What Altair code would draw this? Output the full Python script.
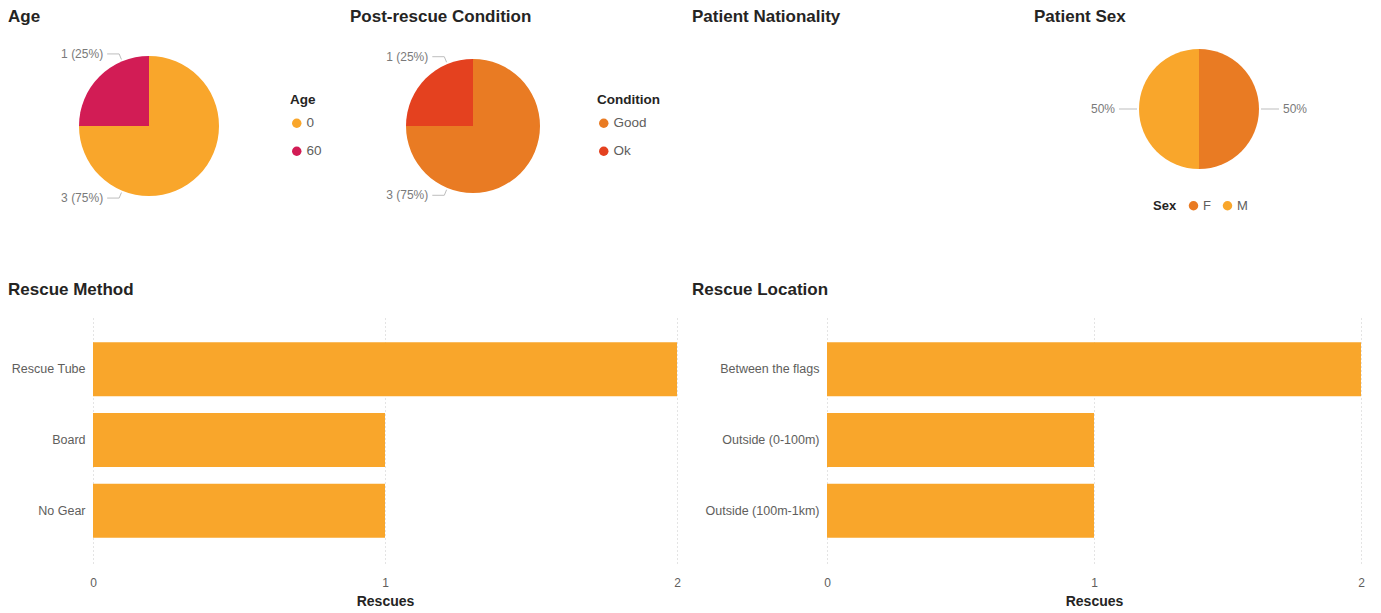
import math
import altair as alt
import pandas as pd

# ---------------- data ----------------
age_categories = ["0", "60"]
age_counts = [3, 1]
condition_categories = ["Good", "Ok"]
condition_counts = [3, 1]
sex_categories = ["F", "M"]
sex_counts = [1, 1]
method_categories = ["Rescue Tube", "Board", "No Gear"]
method_counts = [2, 1, 1]
location_categories = ["Between the flags", "Outside (0-100m)", "Outside (100m-1km)"]
location_counts = [2, 1, 1]
rescue_ticks = [0, 1, 2]

# ---------------- styles ----------------
FONT = "Liberation Sans, Arial, sans-serif"
ORANGE = "#F9A62B"
CRIMSON = "#D21C55"
DARK_ORANGE = "#E97B23"
RED = "#E4411F"
TITLE_COLOR = "#252423"
TEXT_GREY = "#605E5C"
LABEL_GREY = "#7A7A7A"
LEADER_GREY = "#BDBDBD"
GRID_GREY = "#C8C8C8"

TOP_W, TOP_H = 334, 240


def label_geometry(counts, cx, cy, r, fmt):
    """Outside labels with leader lines, placed from each slice's angle."""
    total = float(sum(counts))
    labels, leaders = [], []
    cum = 0.0
    for v in counts:
        start = cum / total * 360.0
        cum += v
        end = cum / total * 360.0
        ang = (start + end) / 2.0
        if 90.0 < ang < 180.0:  # keep lower labels on the left side
            ang = 360.0 - ang
        m = ang % 180.0
        d = min(m, 180.0 - m)
        if d < 90.0:
            ang = ang - d / 2.0 if m < 90.0 else ang + d / 2.0
        t = math.radians(ang)
        sx, sy = math.sin(t), -math.cos(t)
        side = 1 if sx > 1e-9 else -1
        x1, y1 = cx + (r + 2) * sx, cy + (r + 2) * sy
        x2, y2 = cx + (r + 8) * sx, cy + (r + 8) * sy
        x3 = x2 + side * 12
        leaders.append(dict(x=x1, y=y1, x2=x2, y2=y2))
        leaders.append(dict(x=x2, y=y2, x2=x3, y2=y2))
        labels.append(dict(tx=x3 + side * 4, ty=y2, side=side, text=fmt(v, total)))
    return pd.DataFrame(labels), pd.DataFrame(leaders)


def fmt_count(v, total):
    return f"{v} ({round(100 * v / total)}%)"


def fmt_pct(v, total):
    return f"{round(100 * v / total)}%"


def pie_panel(title, field, cats, counts, colors, cx, cy, r, fmt, legend):
    df = pd.DataFrame({field: cats, "Count": counts, "idx": list(range(len(cats)))})
    lab, lead = label_geometry(counts, cx, cy, r, fmt)
    arc = alt.Chart(df).mark_arc(radius=r).encode(
        theta=alt.Theta("Count:Q", stack=True),
        color=alt.Color(f"{field}:N", scale=alt.Scale(domain=cats, range=colors), legend=legend),
        order=alt.Order("idx:Q"),
        x=alt.value(cx),
        y=alt.value(cy),
    )
    leaders = alt.Chart(lead).mark_rule(color=LEADER_GREY, strokeWidth=1).encode(
        x=alt.X("x:Q", scale=None, axis=None),
        y=alt.Y("y:Q", scale=None, axis=None),
        x2="x2:Q",
        y2="y2:Q",
    )
    txt_left = alt.Chart(lab).transform_filter("datum.side < 0").mark_text(
        align="right", baseline="middle", fontSize=12, font=FONT, color=LABEL_GREY
    ).encode(
        x=alt.X("tx:Q", scale=None, axis=None),
        y=alt.Y("ty:Q", scale=None, axis=None),
        text="text:N",
    )
    txt_right = alt.Chart(lab).transform_filter("datum.side > 0").mark_text(
        align="left", baseline="middle", fontSize=12, font=FONT, color=LABEL_GREY
    ).encode(
        x=alt.X("tx:Q", scale=None, axis=None),
        y=alt.Y("ty:Q", scale=None, axis=None),
        text="text:N",
    )
    return alt.layer(arc, leaders, txt_left, txt_right).properties(
        width=TOP_W,
        height=TOP_H,
        title=alt.TitleParams(title, anchor="start", frame="group", offset=6),
    )


def vlegend(title, x, y):
    return alt.Legend(
        title=title, orient="none", legendX=x, legendY=y, padding=0,
        symbolType="circle", symbolSize=90, symbolStrokeWidth=0,
        titleFont=FONT, titleFontSize=13.5, titleFontWeight="bold", titleColor=TITLE_COLOR,
        labelFont=FONT, labelFontSize=13.5, labelColor=TEXT_GREY,
        rowPadding=13, titlePadding=10, labelOffset=3,
    )


age = pie_panel("Age", "Age", age_categories, age_counts, [ORANGE, CRIMSON],
                141, 94, 70, fmt_count, vlegend("Age", 282, 61))
cond = pie_panel("Post-rescue Condition", "Condition", condition_categories, condition_counts,
                 [DARK_ORANGE, RED], 123, 94, 67, fmt_count, vlegend("Condition", 247, 61))
sex_legend = alt.Legend(
    title="Sex", orient="none", legendX=119, legendY=167, padding=0,
    direction="horizontal", titleOrient="left",
    symbolType="circle", symbolSize=90, symbolStrokeWidth=0,
    titleFont=FONT, titleFontSize=13, titleFontWeight="bold", titleColor=TITLE_COLOR,
    labelFont=FONT, labelFontSize=13, labelColor=TEXT_GREY,
    columnPadding=10, titlePadding=10, labelOffset=3,
)
sex = pie_panel("Patient Sex", "Sex", sex_categories, sex_counts, [DARK_ORANGE, ORANGE],
                165, 77, 60, fmt_pct, sex_legend)

nationality = alt.Chart(pd.DataFrame({"Nationality": pd.Series([], dtype=str)})).mark_point(
    opacity=0
).encode(x=alt.value(0), y=alt.value(0)).properties(
    width=TOP_W, height=TOP_H,
    title=alt.TitleParams("Patient Nationality", anchor="start", frame="group", offset=6),
)


def bar_panel(title, cats, counts, label_space, plot_width):
    df = pd.DataFrame({"Category": cats, "Rescues": counts})
    total_w = label_space + plot_width
    return alt.Chart(df).mark_bar(color=ORANGE).encode(
        y=alt.Y(
            "Category:N", sort=cats, title=None,
            scale=alt.Scale(paddingInner=0.237, paddingOuter=0.357),
            axis=alt.Axis(ticks=False, domain=False, offset=-label_space, labelPadding=8,
                          labelFontSize=12.5, labelFont=FONT, labelColor=TEXT_GREY,
                          labelLimit=300),
        ),
        x=alt.X(
            "Rescues:Q", title="Rescues",
            scale=alt.Scale(domain=[rescue_ticks[0], rescue_ticks[-1]], nice=False,
                            range=[label_space, total_w]),
            axis=alt.Axis(tickCount=len(rescue_ticks) - 1, grid=True,
                          gridDash=[1, 3], gridColor=GRID_GREY, gridWidth=1, ticks=False,
                          domain=False, labelFlush=False, labelOverlap=False, labelPadding=14,
                          labelFontSize=12, labelFont=FONT, labelColor=TEXT_GREY,
                          titleFont=FONT, titleFontSize=14, titleFontWeight="bold",
                          titleColor=TITLE_COLOR, titlePadding=6,
                          titleX=label_space + plot_width / 2),
        ),
    ).properties(
        width=total_w, height=246,
        title=alt.TitleParams(title, anchor="start", frame="group", offset=18),
    )


method = bar_panel("Rescue Method", method_categories, method_counts, 85, 584)
location = bar_panel("Rescue Location", location_categories, location_counts, 135, 534)

top = alt.hconcat(age, cond, nationality, sex, spacing=8).resolve_scale(color="independent")
bottom = alt.hconcat(method, location, spacing=11)

chart = alt.vconcat(top, bottom, spacing=9).resolve_scale(
    color="independent"
).properties(padding=0).configure_view(stroke=None).configure_title(
    font=FONT, fontSize=17, fontWeight="bold", color=TITLE_COLOR
)

chart.save("out.html", embed_options={"renderer": "svg", "actions": False})
